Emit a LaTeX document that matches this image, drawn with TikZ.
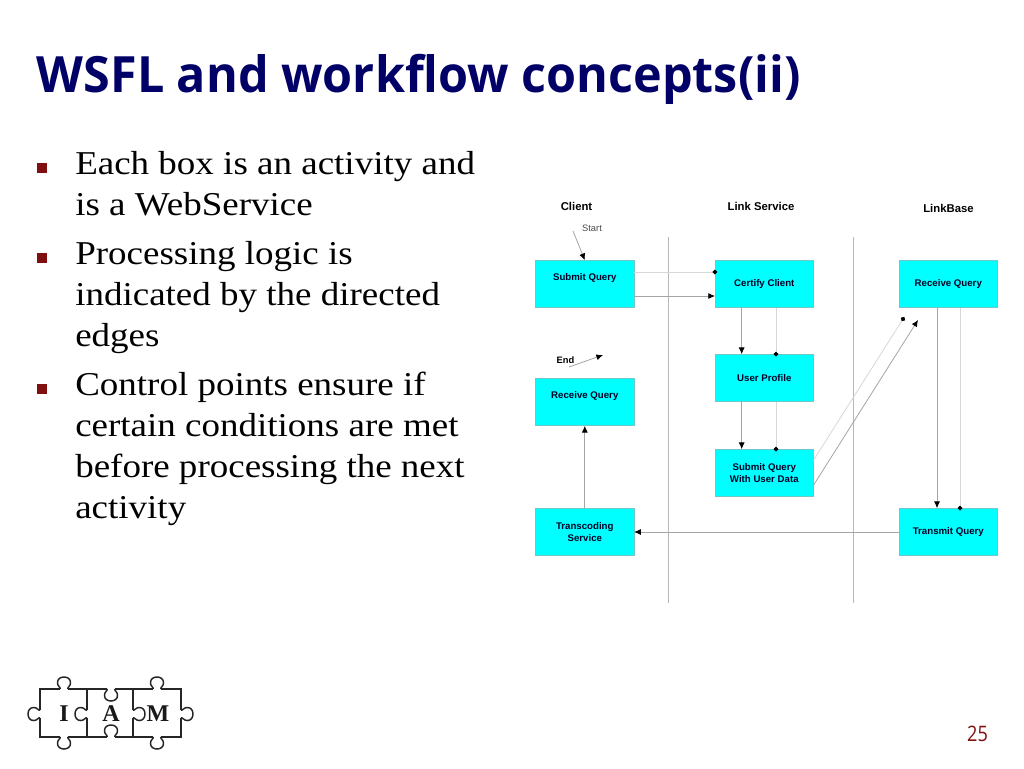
\documentclass[tikz,border=0pt]{standalone}
\usepackage{fontspec}
\setmainfont[FakeStretch=1.11]{Liberation Serif}
\newfontfamily\titlefont[Ligatures=NoCommon,FakeStretch=0.97]{Open Sans}
\newfontfamily\pagefont[FakeStretch=0.85]{Open Sans}
\newfontfamily\logofont{Liberation Serif}
\newfontfamily\diagfont{Liberation Sans}
\usetikzlibrary{arrows.meta}
\definecolor{navy}{RGB}{0,0,102}
\definecolor{bulletred}{RGB}{128,16,16}
\definecolor{boxcyan}{RGB}{0,255,255}
\definecolor{boxedge}{RGB}{110,200,200}
\definecolor{darkline}{RGB}{165,165,165}
\definecolor{lightline}{RGB}{215,215,215}
\newcommand{\liftbox}[2]{\raisebox{#1}[0pt][0pt]{#2}}
\newcommand{\knob}[3]{%
  \begin{scope}[shift={(#1,#2)},rotate=#3]
    \fill[white] (-3.8,-1.5) rectangle (3.8,1.5);
    \draw[logoline] (-4,0) .. controls (-2.5,-1) and (-7,-3) .. (-6.5,-6.5) .. controls (-6.5,-10) and (-3.5,-12) .. (0,-12) .. controls (3.5,-12) and (6.5,-10) .. (6.5,-6.5) .. controls (7,-3) and (2.5,-1) .. (4,0);
  \end{scope}}
\tikzset{
  x=0.75pt,y=-0.75pt,
  activity/.style={draw=boxedge,line width=0.4pt,fill=boxcyan,minimum width=73.6pt,minimum height=35.4pt,inner sep=0pt,align=center,font=\diagfont\bfseries\fontsize{7.25}{9}\selectfont,text=black!85!blue},
  heading/.style={font=\diagfont\bfseries\fontsize{8.5}{10}\selectfont,inner sep=0pt},
  flow/.style={draw=darkline,line width=0.6pt,-{Latex[black,length=5pt,width=4.5pt]}},
  guard/.style={draw=lightline,line width=0.6pt,shorten >=-1.75pt,-{Circle[black,length=3.5pt]}},
  lane/.style={draw=lightline!85!black,line width=0.7pt},
  slidetext/.style={anchor=base west,inner sep=0pt,font=\fontsize{25}{30}\selectfont,text=black},
  bulletmark/.style={fill=bulletred,minimum size=7.5pt,inner sep=0pt},
  logoline/.style={draw=black!85,line width=1.1pt},
  logoletter/.style={font=\logofont\bfseries\fontsize{18}{20}\selectfont,inner sep=0pt,text=black!90},
}
\begin{document}
\begin{tikzpicture}
\useasboundingbox (0,0) rectangle (1024,768);
\fill[white] (0,0) rectangle (1024,768);
% title
\node[anchor=base west,inner sep=0pt,text=navy,font=\titlefont\bfseries\fontsize{37.5}{44}\selectfont] (title) at (36.5,92) {WSFL and workflow concepts(ii)};
% bullets
\node[bulletmark] (b1) at (42,167.5) {};
\node[bulletmark] (b2) at (42,257.5) {};
\node[bulletmark] (b3) at (42,388.5) {};
\node[slidetext] (l1) at (75,174) {Each box is an activity and};
\node[slidetext] (l2) at (75,215) {is a WebService};
\node[slidetext] (l3) at (75,264) {Processing logic is};
\node[slidetext] (l4) at (75,305) {indicated by the directed};
\node[slidetext] (l5) at (75,346) {edges};
\node[slidetext] (l6) at (75,395) {Control points ensure if};
\node[slidetext] (l7) at (75,436) {certain conditions are met};
\node[slidetext] (l8) at (75,477) {before processing the next};
\node[slidetext] (l9) at (75,518) {activity};
% lanes
\coordinate (lane1top) at (668.7,237); \coordinate (lane1bot) at (668.7,603);
\coordinate (lane2top) at (853,237); \coordinate (lane2bot) at (853,603);
\draw[lane] (lane1top) -- (lane1bot);
\draw[lane] (lane2top) -- (lane2bot);
% headings
\node[heading] (hclient) at (576.5,206) {Client};
\node[heading] (hlink) at (761,206) {Link Service};
\node[heading] (hbase) at (948.5,208) {LinkBase};
\node[inner sep=0pt,font=\diagfont\fontsize{7}{9}\selectfont,text=black!70] (start) at (592,228) {Start};
\node[inner sep=0pt,font=\diagfont\bfseries\fontsize{7}{9}\selectfont] (endlabel) at (565.5,360) {End};
% boxes
\node[activity] (submit) at (584.8,284) {\liftbox{2.5pt}{Submit Query}};
\node[activity] (certify) at (764.3,284) {Certify Client};
\node[activity] (recvR) at (948.3,284) {Receive Query};
\node[activity] (recvL) at (584.8,402) {\liftbox{2.5pt}{Receive Query}};
\node[activity] (profile) at (764.3,378) {User Profile};
\node[activity] (subdata) at (764.3,473) {Submit Query\\With User Data};
\node[activity] (transcode) at (584.8,532) {Transcoding\\Service};
\node[activity] (transmit) at (948.3,532) {Transmit Query};
% free ends
\coordinate (startfrom) at (573,231);
\coordinate (endfrom) at (569,367);
\coordinate (endto) at (603,355);
\coordinate (guardto) at (903,319);
\coordinate (flowto) at (918,320);
% connectors
\draw[flow] (startfrom) -- (submit.north);
\draw[flow] (endfrom) -- (endto);
\draw[guard] (submit.east |- 0,272) -- (certify.west |- 0,272);
\draw[flow] (submit.east |- 0,296) -- (certify.west |- 0,296);
\draw[flow] (certify.south -| 741.7,0) -- (profile.north -| 741.7,0);
\draw[guard] (certify.south -| 776,0) -- (profile.north -| 776,0);
\draw[flow] (profile.south -| 741.7,0) -- (subdata.north -| 741.7,0);
\draw[guard] (profile.south -| 776,0) -- (subdata.north -| 776,0);
\draw[guard] (subdata.east |- 0,460) -- (guardto);
\draw[flow] (subdata.east |- 0,485) -- (flowto);
\draw[flow] (recvR.south -| 937,0) -- (transmit.north -| 937,0);
\draw[guard] (recvR.south -| 960,0) -- (transmit.north -| 960,0);
\draw[flow] (transmit.west) -- (transcode.east);
\draw[flow] (transcode.north) -- (recvL.south);
% logo
\draw[logoline] (40,689) rectangle (181,737);
\draw[logoline] (87,689) -- (87,737);
\draw[logoline] (133,689) -- (133,737);
\knob{64}{689}{0}
\knob{157}{689}{0}
\knob{64}{737}{180}
\knob{157}{737}{180}
\knob{111}{689}{180}
\knob{111}{737}{0}
\knob{40}{714}{90}
\knob{87}{714}{90}
\knob{133}{714}{-90}
\knob{181}{714}{-90}
\node[logoletter] (li) at (64,714) {I};
\node[logoletter] (la) at (111,714) {A};
\node[logoletter] (lm) at (158,714) {M};
% page
\node[font=\pagefont\fontsize{16}{18}\selectfont,text=bulletred,inner sep=0pt] (page) at (977.5,734) {25};
\end{tikzpicture}
\end{document}
